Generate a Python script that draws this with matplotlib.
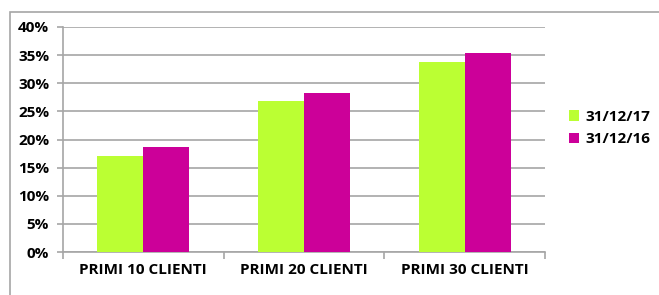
import matplotlib
matplotlib.use("Agg")
import matplotlib.pyplot as plt
import numpy as np
from matplotlib.patches import Rectangle

categories = ["PRIMI 10 CLIENTI", "PRIMI 20 CLIENTI", "PRIMI 30 CLIENTI"]
series_names = ["31/12/17", "31/12/16"]
vals_2017 = [17.1, 26.9, 33.7]
vals_2016 = [18.7, 28.2, 35.3]
y_ticks = [0, 5, 10, 15, 20, 25, 30, 35, 40]

GREEN = "#BBFF33"
MAGENTA = "#CC0099"
GRID = "#A6A6A6"

plt.rcParams["font.family"] = ["Open Sans", "DejaVu Sans"]

W, H = 659, 295
fig = plt.figure(figsize=(W / 100, H / 100), dpi=100)
ax = fig.add_axes([63 / W, 1 - 252 / H, (545 - 63) / W, (252 - 27) / H])

# outer chart border
fig.patches.append(Rectangle((10 / W, -0.1), 1.2, 1 - 12 / H + 0.1,
                             transform=fig.transFigure, fill=False,
                             edgecolor=GRID, lw=1.2))

x = np.arange(len(categories))
bw = 0.286
ax.bar(x - bw / 2, vals_2017, bw, color=GREEN, label=series_names[0], zorder=3)
ax.bar(x + bw / 2, vals_2016, bw, color=MAGENTA, label=series_names[1], zorder=3)

ax.set_xlim(-0.5, len(categories) - 0.5)
ax.set_ylim(0, 40)
ax.set_yticks(y_ticks)
ax.set_yticklabels([f"{t}%" for t in y_ticks], fontsize=11, fontweight="bold")
ax.yaxis.grid(True, color=GRID, lw=1.2, zorder=0)
ax.set_axisbelow(True)

ax.set_xticks(x)
ax.set_xticklabels(categories, fontsize=11, fontweight="bold")
ax.tick_params(axis="x", length=0, pad=8)
ax.set_xticks([-0.5, 0.5, 1.5, 2.5], minor=True)
ax.tick_params(axis="x", which="minor", length=5, color=GRID, width=1.2)
ax.tick_params(axis="y", length=4, color=GRID, width=1.2, pad=6)

for s in ["top", "right"]:
    ax.spines[s].set_visible(False)
for s in ["left", "bottom"]:
    ax.spines[s].set_color(GRID)
    ax.spines[s].set_linewidth(1.2)

ax.legend(loc="center left", bbox_to_anchor=(555 / W, 1 - 128 / H),
          bbox_transform=fig.transFigure, frameon=False,
          prop={"weight": "bold", "size": 11}, handlelength=0.7,
          handleheight=0.7, handletextpad=0.4, labelspacing=0.55)

fig.savefig("out.png", dpi=100)
